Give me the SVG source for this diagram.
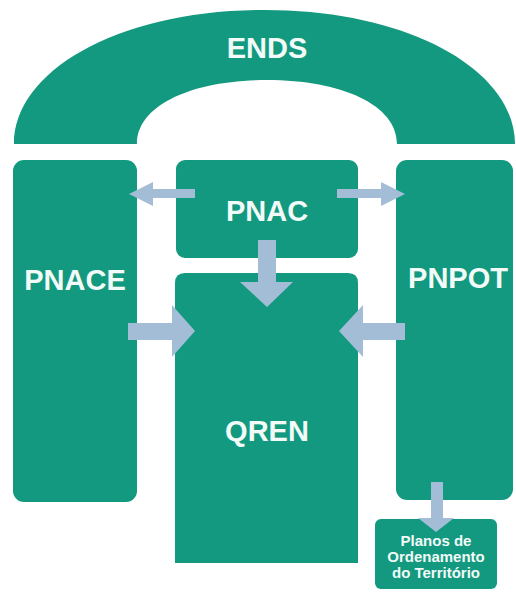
<svg xmlns="http://www.w3.org/2000/svg" width="516" height="601" viewBox="0 0 516 601">
<style>
.box{fill:#12997f}
.lbl{font-family:"Liberation Sans",Arial,sans-serif;font-weight:bold;font-size:29px;fill:#f2fbf8;text-anchor:middle}
.sm{font-size:15px}
.arr{fill:#a3bdd7}
</style>
<rect width="516" height="601" fill="#ffffff"/>
<g id="ENDS">
<path class="box" d="M14,144 C14,70 120,10 264.5,10 C409,10 515,70 515,144 L397,144 C397,105 342,80 267,80 C192,80 137,105 137,144 Z"/>
<text class="lbl" x="267" y="58">ENDS</text>
</g>
<g id="PNACE">
<rect class="box" x="13" y="160" width="124" height="342" rx="11"/>
<text class="lbl" x="75" y="290">PNACE</text>
</g>
<g id="PNAC">
<rect class="box" x="176" y="160" width="182" height="98" rx="9"/>
<text class="lbl" x="267" y="221">PNAC</text>
</g>
<g id="QREN">
<path class="box" d="M175,283 Q175,273 185,273 L348,273 Q358,273 358,283 L358,563 L175,563 Z"/>
<text class="lbl" x="267" y="441">QREN</text>
</g>
<g id="PNPOT">
<rect class="box" x="396" y="160" width="117" height="340" rx="11"/>
<text class="lbl" x="458" y="288">PNPOT</text>
</g>
<g id="Planos">
<rect class="box" x="375" y="519" width="122" height="70" rx="6"/>
<text class="lbl sm" x="436" y="546">Planos de</text>
<text class="lbl sm" x="436" y="562">Ordenamento</text>
<text class="lbl sm" x="436" y="578">do Território</text>
</g>
<g id="connectors">
<polygon class="arr" points="195,189 153,189 153,182 129,194 153,206 153,198 195,198"/>
<polygon class="arr" points="337,189 381,189 381,182 405,194 381,206 381,198 337,198"/>
<polygon class="arr" points="258,240 276,240 276,282 293,282 267,307 240,282 258,282"/>
<polygon class="arr" points="128,323 172,323 172,305 195,331 172,357 172,340 128,340"/>
<polygon class="arr" points="405,323 363,323 363,305 339,331 363,357 363,340 405,340"/>
<polygon class="arr" points="431,482 443,482 443,518 454,518 436,532 418,518 431,518"/>
</g>
</svg>
